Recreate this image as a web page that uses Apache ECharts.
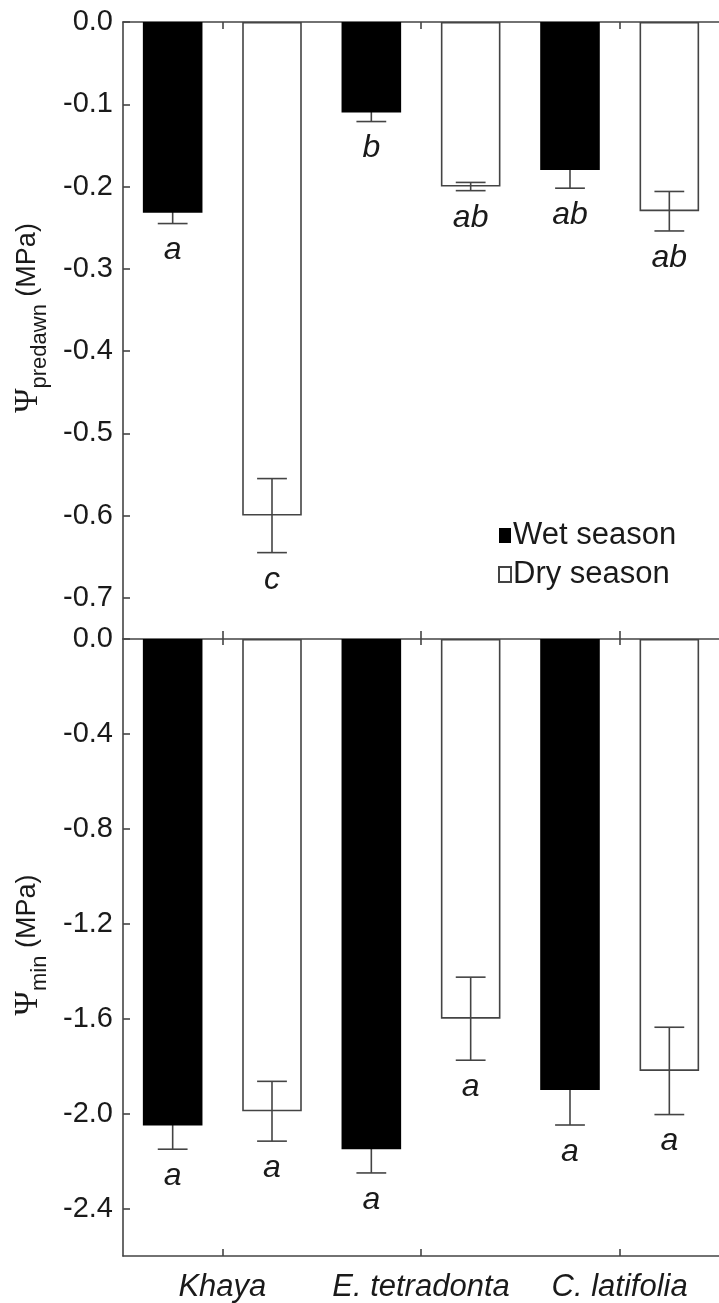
<!DOCTYPE html>
<html>
<head>
<meta charset="utf-8">
<script src="https://cdn.jsdelivr.net/npm/echarts@6/dist/echarts.min.js"></script>
<style>
html,body{margin:0;padding:0;background:#fff;}
#chart{width:719px;height:1303px;}
</style>
</head>
<body>
<div id="chart"></div>
<script>
// ---- data ----
const categories = ['Khaya', 'E. tetradonta', 'C. latifolia'];
const seriesNames = ['Wet season', 'Dry season'];

const predawnWet = [-0.232, -0.11, -0.18];
const predawnWetErr = [0.013, 0.011, 0.022];
const predawnWetLetters = ['a', 'b', 'ab'];
const predawnDry = [-0.60, -0.20, -0.23];
const predawnDryErr = [0.045, 0.005, 0.024];
const predawnDryLetters = ['c', 'ab', 'ab'];

const minWet = [-2.05, -2.15, -1.90];
const minWetErr = [0.10, 0.10, 0.148];
const minWetLetters = ['a', 'a', 'a'];
const minDry = [-1.99, -1.60, -1.82];
const minDryErr = [0.126, 0.175, 0.184];
const minDryLetters = ['a', 'a', 'a'];

const predawnTicks = [0, -0.1, -0.2, -0.3, -0.4, -0.5, -0.6, -0.7];
const minTicks = [0, -0.4, -0.8, -1.2, -1.6, -2.0, -2.4];

const predawnName = '{psi|Ψ}{sub|predawn}{n| (MPa)}';
const minName = '{psi|Ψ}{sub|min}{n| (MPa)}';

// ---- styles ----
const FONT = '"Liberation Sans", Arial, sans-serif';
const LINE = '#444';
const TEXT = '#1a1a1a';

function errSeries(values, errs, letters, side, xi, yi, z) {
  return {
    type: 'custom',
    xAxisIndex: xi, yAxisIndex: yi, z: z,
    silent: true,
    encode: {x: 0, y: 1},
    data: values.map((v, i) => [i, v, errs[i]]),
    renderItem: function (params, api) {
      const i = api.value(0), mean = api.value(1), err = api.value(2);
      const band = api.size([1, 0])[0];
      const x = api.coord([i, mean])[0] + side * band * 0.25;
      const yTop = api.coord([i, mean + err])[1];
      const yBot = api.coord([i, mean - err])[1];
      const half = band * 0.075;
      const st = {stroke: LINE, lineWidth: 1.6};
      return {
        type: 'group',
        children: [
          {type: 'line', shape: {x1: x, y1: yTop, x2: x, y2: yBot}, style: st},
          {type: 'line', shape: {x1: x - half, y1: yTop, x2: x + half, y2: yTop}, style: st},
          {type: 'line', shape: {x1: x - half, y1: yBot, x2: x + half, y2: yBot}, style: st},
          {type: 'text', x: x, y: yBot + 27,
           style: {text: letters[params.dataIndex], fontSize: 32, fontStyle: 'italic',
                   fontFamily: FONT, fill: TEXT, align: 'center', verticalAlign: 'middle'}}
        ]
      };
    }
  };
}

function catAxis(gridIndex, position, showLine, tickLen, showLabel) {
  return {
    type: 'category', gridIndex: gridIndex, position: position, data: categories,
    axisLine: {show: showLine, onZero: false, lineStyle: {color: LINE, width: 1.6}},
    axisTick: {show: true, inside: true, alignWithLabel: true, interval: 0, length: tickLen,
               lineStyle: {color: LINE, width: 1.6}},
    axisLabel: {show: showLabel, interval: 0, fontSize: 31, fontStyle: 'italic', fontFamily: FONT,
                color: TEXT, margin: 16, hideOverlap: false},
    splitLine: {show: false}
  };
}

function valAxis(gridIndex, min, ticks) {
  return {
    type: 'value', gridIndex: gridIndex, min: min, max: 0,
    axisLine: {show: true, onZero: false, lineStyle: {color: LINE, width: 1.6}},
    axisTick: {show: true, inside: true, length: 7, customValues: ticks,
               lineStyle: {color: LINE, width: 1.6}},
    axisLabel: {fontSize: 29, fontFamily: FONT, color: TEXT, margin: 10,
                customValues: ticks, formatter: v => v.toFixed(1)},
    splitLine: {show: false}
  };
}

const nameRich = {
  psi: {fontFamily: '"Liberation Serif", "DejaVu Serif", serif', fontSize: 33, fill: TEXT},
  sub: {fontFamily: FONT, fontSize: 22, fill: TEXT, padding: [24, 0, 0, 0]},
  n: {fontFamily: FONT, fontSize: 27, fill: TEXT}
};
function nameText(text, x, y) {
  return {
    type: 'text', x: x, y: y, rotation: Math.PI / 2, silent: true,
    style: {text: text, rich: nameRich, fontFamily: FONT, fontSize: 27, fill: TEXT,
            align: 'center', verticalAlign: 'middle'}
  };
}

const chart = echarts.init(document.getElementById('chart'), null, {renderer: 'canvas'});
const option = {
  backgroundColor: '#fff',
  animation: false,
  grid: [
    {left: 123, top: 22, width: 600, height: 617, containLabel: false},
    {left: 123, top: 639, width: 600, height: 618, containLabel: false}
  ],
  graphic: [
    nameText(predawnName, 28, 318),
    nameText(minName, 28, 945)
  ],
  legend: {
    data: [
      {name: seriesNames[0], icon: 'rect'},
      {name: seriesNames[1], icon: 'rect'}
    ],
    orient: 'vertical', left: 498, top: 520, padding: 0,
    itemWidth: 12, itemHeight: 15, itemGap: 8,
    textStyle: {fontSize: 31, fontFamily: FONT, color: TEXT, padding: [0, 0, 0, -3]}
  },
  xAxis: [
    catAxis(0, 'top', true, 7, false),
    catAxis(0, 'bottom', false, 8, false),
    catAxis(1, 'top', true, 6, false),
    catAxis(1, 'bottom', true, 7, true)
  ],
  yAxis: [
    valAxis(0, -0.75, predawnTicks),
    valAxis(1, -2.6, minTicks)
  ],
  series: [
    errSeries(predawnWet, predawnWetErr, predawnWetLetters, -1, 0, 0, 1),
    {type: 'bar', name: seriesNames[0], xAxisIndex: 0, yAxisIndex: 0, z: 2,
     data: predawnWet, barGap: '66.67%', barCategoryGap: '20%',
     itemStyle: {color: '#000', borderColor: '#000', borderWidth: 0}},
    {type: 'bar', name: seriesNames[1], xAxisIndex: 0, yAxisIndex: 0, z: 2,
     data: predawnDry, barGap: '66.67%', barCategoryGap: '20%',
     itemStyle: {color: '#fff', borderColor: LINE, borderWidth: 1.6}},
    errSeries(predawnDry, predawnDryErr, predawnDryLetters, 1, 0, 0, 3),

    errSeries(minWet, minWetErr, minWetLetters, -1, 2, 1, 1),
    {type: 'bar', name: seriesNames[0], xAxisIndex: 2, yAxisIndex: 1, z: 2,
     data: minWet, barGap: '66.67%', barCategoryGap: '20%',
     itemStyle: {color: '#000', borderColor: '#000', borderWidth: 0}},
    {type: 'bar', name: seriesNames[1], xAxisIndex: 2, yAxisIndex: 1, z: 2,
     data: minDry, barGap: '66.67%', barCategoryGap: '20%',
     itemStyle: {color: '#fff', borderColor: LINE, borderWidth: 1.6}},
    errSeries(minDry, minDryErr, minDryLetters, 1, 2, 1, 3)
  ]
};
chart.setOption(option);
</script>
</body>
</html>
